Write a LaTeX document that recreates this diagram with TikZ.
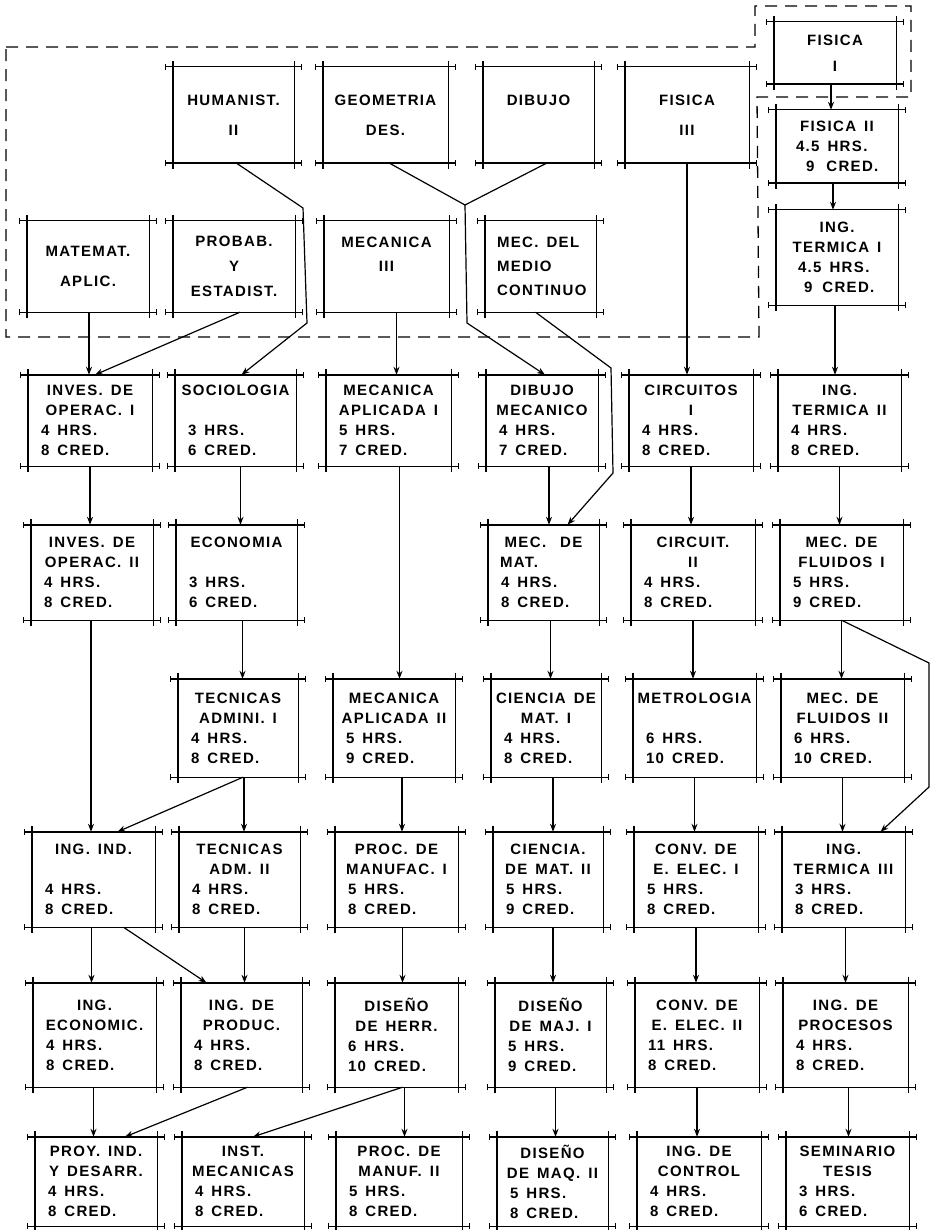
\documentclass[tikz,border=0pt]{standalone}
\usepackage{fontspec}
\setmainfont{Liberation Sans}
\newfontfamily\lett[LetterSpace=9]{Liberation Sans}
\usetikzlibrary{arrows.meta}
\newcommand\crsfont{\lett\bfseries\fontsize{15}{20}\selectfont\spaceskip=8pt plus 2pt minus 2pt\relax}
\newcommand\cl[1]{\makebox[\linewidth][c]{#1}}
\newcommand\hc[2]{\hspace*{5pt}#1\hspace{8pt}HRS.\\\hspace*{5pt}#2\hspace{8pt}CRED.}
\newcommand\crs[6]{%
  \pgfmathsetmacro\tw{#4-#2-16}%
  \node[crs, minimum width={#4-#2}, minimum height={#5-#3}, text width=\tw pt] (#1) at ({(#2+#4)/2},{(#3+#5)/2}) {\crsfont #6};
  \draw[bx] ([xshift=-7pt]#1.north west) -- ([xshift=7pt]#1.north east);
  \draw[bx] ([xshift=-7pt]#1.south west) -- ([xshift=7pt]#1.south east);
  \draw[bx] ([yshift=6pt]#1.north west) -- ([yshift=-6pt]#1.south west);
  \draw[bx] ([yshift=6pt]#1.north east) -- ([yshift=-6pt]#1.south east);
  \foreach \c/\d in {north west/-7,north east/7,south west/-7,south east/7}{
    \draw[tk] ([xshift=\d pt,yshift=-3pt]#1.\c) -- ([xshift=\d pt,yshift=3pt]#1.\c);}
}
\newcommand\varr[3]{%
  \path ([xshift=#3pt]#1.south) coordinate (vtmp);
  \draw[ar] (vtmp) -- (vtmp |- #2.north);
}
\begin{document}
\begin{tikzpicture}[x=1pt,y=-1pt,
  bx/.style={line width=1.4pt},
  tk/.style={line width=0.8pt},
  cn/.style={line width=1.2pt},
  ar/.style={cn,-{Stealth[length=8pt,width=6pt]}},
  dsh/.style={line width=1.3pt, dash pattern=on 12pt off 8pt},
  crs/.style={rectangle, inner sep=0pt, font=\lett\bfseries\fontsize{15}{20}\selectfont, align=left}]
\useasboundingbox (0,0) rectangle (932,1230);

% previous-semester boundary
\draw[dsh] (6,47) -- (755,47) -- (755,6) -- (911,6) -- (911,97) -- (757,97) -- (759,337) -- (6,337) -- cycle;

% row 0
\crs{hum}{173}{67}{294}{163}{\cl{HUMANIST.}\\[10pt]\cl{II}}
\crs{geo}{323}{67}{448}{163}{\cl{GEOMETRIA}\\[10pt]\cl{DES.}}
\crs{dib}{483}{67}{594}{163}{\cl{DIBUJO}\\[10pt]\mbox{}}
\crs{fis3}{625}{67}{749}{163}{\cl{FISICA}\\[10pt]\cl{III}}
\crs{fis1}{774}{22}{896}{84}{\cl{FISICA}\\[6pt]\cl{I}}
% row 1
\crs{mat}{27}{221}{149}{312}{\cl{MATEMAT.}\\[10pt]\cl{APLIC.}}
\crs{prob}{173}{221}{295}{312}{\cl{PROBAB.}\\[5pt]\cl{Y}\\[5pt]\cl{ESTADIST.}}
\crs{mec3}{324}{221}{449}{312}{\cl{MECANICA}\\[4pt]\cl{III}\\[4pt]\mbox{}}
\crs{medio}{485}{221}{596}{312}{\hspace*{4pt}MEC. DEL\\[4pt]\hspace*{4pt}MEDIO\\[4pt]\hspace*{4pt}CONTINUO}
\crs{fis2}{776}{110}{898}{183}{\cl{FISICA II}\\\hspace*{12pt}4.5\hspace{8pt}HRS.\\\hspace*{22pt}9\hspace{12pt}CRED.}
\crs{ter1}{776}{210}{898}{305}{\cl{ING.}\\\cl{TERMICA I}\\\hspace*{14pt}4.5\hspace{8pt}HRS.\\\hspace*{20pt}9\hspace{10pt}CRED.}
% row 2
\crs{inv1}{28}{375}{152}{466}{\cl{INVES. DE}\\\cl{OPERAC. I}\\\hc{4}{8}}
\crs{soc}{175}{375}{296}{466}{\cl{SOCIOLOGIA}\\\mbox{}\\\hc{3}{6}}
\crs{mapl1}{326}{375}{451}{466}{\cl{MECANICA}\\\cl{APLICADA I}\\\hc{5}{7}}
\crs{dibm}{486}{375}{598}{466}{\cl{DIBUJO}\\\cl{MECANICO}\\\hc{4}{7}}
\crs{cir1}{629}{375}{753}{466}{\cl{CIRCUITOS}\\\cl{I}\\\hc{4}{8}}
\crs{ter2}{778}{375}{901}{466}{\cl{ING.}\\\cl{TERMICA II}\\\hc{4}{8}}
% row 3
\crs{inv2}{31}{525}{153}{620}{\cl{INVES. DE}\\\cl{OPERAC. II}\\\hc{4}{8}}
\crs{eco}{176}{525}{297}{620}{\cl{ECONOMIA}\\\mbox{}\\\hc{3}{6}}
\crs{mmat}{488}{525}{599}{620}{\cl{MEC.\hspace{14pt}DE}\\\hspace*{4pt}MAT.\\\hc{4}{8}}
\crs{cir2}{631}{525}{755}{620}{\cl{CIRCUIT.}\\\cl{II}\\\hc{4}{8}}
\crs{flu1}{780}{525}{903}{620}{\cl{MEC. DE}\\\cl{FLUIDOS I}\\\hc{5}{9}}
% row 4
\crs{tec1}{178}{679}{298}{777}{\cl{TECNICAS}\\\cl{ADMINI. I}\\\hc{4}{8}}
\crs{mapl2}{333}{679}{455}{777}{\cl{MECANICA}\\\cl{APLICADA II}\\\hc{5}{9}}
\crs{cien1}{491}{679}{601}{777}{\cl{CIENCIA DE}\\\cl{MAT. I}\\\hc{4}{8}}
\crs{metr}{633}{679}{756}{777}{\cl{METROLOGIA}\\\mbox{}\\\hc{6}{10}}
\crs{flu2}{781}{679}{904}{777}{\cl{MEC. DE}\\\cl{FLUIDOS II}\\\hc{6}{10}}
% row 5
\crs{ind}{32}{832}{155}{927}{\cl{ING. IND.}\\\mbox{}\\\hc{4}{8}}
\crs{tec2}{179}{832}{300}{927}{\cl{TECNICAS}\\\cl{ADM. II}\\\hc{4}{8}}
\crs{man1}{335}{832}{458}{927}{\cl{PROC. DE}\\\cl{MANUFAC. I}\\\hc{5}{8}}
\crs{cien2}{493}{832}{603}{927}{\cl{CIENCIA.}\\\cl{DE MAT. II}\\\hc{5}{9}}
\crs{conv1}{634}{832}{758}{927}{\cl{CONV. DE}\\\cl{E. ELEC. I}\\\hc{5}{8}}
\crs{ter3}{782}{832}{905}{927}{\cl{ING.}\\\cl{TERMICA III}\\\hc{3}{8}}
% row 6
\crs{eco2}{33}{983}{156}{1087}{\cl{ING.}\\\cl{ECONOMIC.}\\\hc{4}{8}}
\crs{prod}{181}{983}{302}{1087}{\cl{ING. DE}\\\cl{PRODUC.}\\\hc{4}{8}}
\crs{herr}{335}{983}{458}{1087}{\cl{DISEÑO}\\\cl{DE HERR.}\\\hc{6}{10}}
\crs{maj1}{495}{983}{606}{1087}{\cl{DISEÑO}\\\cl{DE MAJ. I}\\\hc{5}{9}}
\crs{conv2}{635}{983}{759}{1087}{\cl{CONV. DE}\\\cl{E. ELEC. II}\\\hc{11}{8}}
\crs{proc}{783}{983}{908}{1087}{\cl{ING. DE}\\\cl{PROCESOS}\\\hc{4}{8}}
% row 7
\crs{proy}{35}{1137}{157}{1226}{\cl{PROY. IND.}\\\cl{Y DESARR.}\\\hc{4}{8}}
\crs{inst}{182}{1137}{304}{1226}{\cl{INST.}\\\cl{MECANICAS}\\\hc{4}{8}}
\crs{man2}{336}{1137}{462}{1226}{\cl{PROC. DE}\\\cl{MANUF. II}\\\hc{5}{8}}
\crs{maq2}{497}{1137}{608}{1226}{\cl{DISEÑO}\\\cl{DE MAQ. II}\\\hc{5}{8}}
\crs{ctrl}{637}{1137}{761}{1226}{\cl{ING. DE}\\\cl{CONTROL}\\\hc{4}{8}}
\crs{sem}{786}{1137}{909}{1226}{\cl{SEMINARIO}\\\cl{TESIS}\\\hc{3}{6}}

% routing points
\coordinate (h1) at (303,208);
\coordinate (h2) at (307,323);
\coordinate (j1) at (465,205);
\coordinate (j2) at (467,323);
\coordinate (m1) at (611,368);
\coordinate (m2) at (613,473);
\coordinate (bp1) at (929,663);
\coordinate (bp2) at (929,787);

% vertical connectors
\varr{fis1}{fis2}{-4}
\varr{fis2}{ter1}{-4}
\varr{ter1}{ter2}{-2}
\varr{ter2}{flu1}{0}
\varr{flu1}{flu2}{0}
\varr{flu2}{ter3}{0}
\varr{ter3}{proc}{2}
\varr{proc}{sem}{3}
\varr{fis3}{cir1}{0}
\varr{cir1}{cir2}{0}
\varr{cir2}{metr}{0}
\varr{metr}{conv1}{0}
\varr{conv1}{conv2}{0}
\varr{conv2}{ctrl}{0}
\varr{dibm}{mmat}{7}
\varr{mmat}{cien1}{7}
\varr{cien1}{cien2}{7}
\varr{cien2}{maj1}{5}
\varr{maj1}{maq2}{5}
\varr{mec3}{mapl1}{10}
\varr{mapl1}{mapl2}{11}
\varr{mapl2}{man1}{8}
\varr{man1}{herr}{6}
\varr{herr}{man2}{8}
\varr{mat}{inv1}{1}
\varr{inv1}{inv2}{0}
\varr{inv2}{ind}{-1}
\varr{ind}{eco2}{-2}
\varr{eco2}{proy}{-1}
\varr{soc}{eco}{5}
\varr{eco}{tec1}{6}
\varr{tec1}{tec2}{6}
\varr{tec2}{prod}{5}

% other connectors
\draw[ar] ([xshift=6pt]prob.south) -- ([xshift=5pt]inv1.north);
\draw[ar] ([xshift=3pt]hum.south) -- (h1) -- (h2) -- ([xshift=6pt]soc.north);
\draw[cn] ([xshift=8pt]dib.south) -- (j1);
\draw[ar] ([xshift=4pt]geo.south) -- (j1) -- (j2) -- ([xshift=3pt]dibm.north);
\draw[ar] ([xshift=-5pt]medio.south) -- (m1) -- (m2) -- ([xshift=24pt]mmat.north);
\draw[ar] ([xshift=5pt]tec1.south) -- ([xshift=24pt]ind.north);
\draw[ar] ([xshift=30pt]ind.south) -- ([xshift=-35pt]prod.north);
\draw[ar] ([xshift=6pt]prod.south) -- ([xshift=29pt]proy.north);
\draw[ar] ([xshift=6pt]herr.south) -- ([xshift=10pt]inst.north);
\draw[ar] (flu1.south) -- (bp1) -- (bp2) -- ([xshift=37pt]ter3.north);
\end{tikzpicture}
\end{document}
